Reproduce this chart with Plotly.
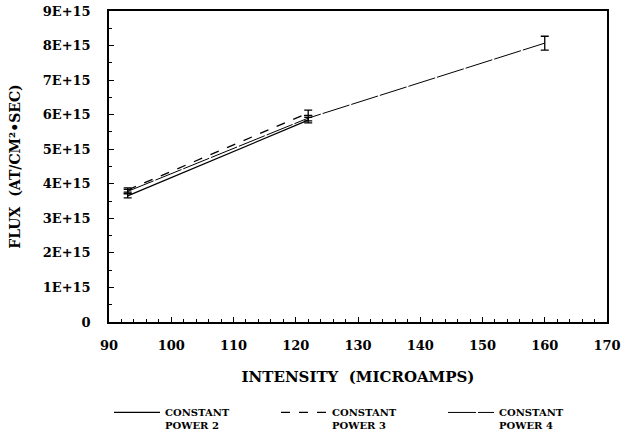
import plotly.graph_objects as go

# Data
x_p2 = [93, 122]
y_p2 = [3.65e15, 5.84e15]
e_p2 = [0.06e15, 0.08e15]

x_p3 = [93, 122]
y_p3 = [3.82e15, 6.05e15]
e_p3 = [0.06e15, 0.08e15]

x_p4 = [93, 122, 160]
y_p4 = [3.78e15, 5.90e15, 8.07e15]
e_p4 = [0.06e15, 0.08e15, 0.20e15]

names = ["CONSTANT<br>POWER 2", "CONSTANT<br>POWER 3", "CONSTANT<br>POWER 4"]

x_ticks = [90, 100, 110, 120, 130, 140, 150, 160, 170]
y_ticks = [0, 1e15, 2e15, 3e15, 4e15, 5e15, 6e15, 7e15, 8e15, 9e15]
y_ticktext = ["0", "1E+15", "2E+15", "3E+15", "4E+15", "5E+15", "6E+15", "7E+15", "8E+15", "9E+15"]

FONT = "DejaVu Serif"

fig = go.Figure()
series = [
    (x_p2, y_p2, e_p2, names[0], "solid", 1.3),
    (x_p3, y_p3, e_p3, names[1], "dash", 1.3),
    (x_p4, y_p4, e_p4, names[2], "28px,2px", 1.0),
]
for xs, ys, es, nm, dash, w in series:
    fig.add_trace(go.Scatter(
        x=xs, y=ys, name=nm, mode="lines",
        line=dict(color="black", width=w, dash=dash),
        error_y=dict(type="data", array=es, visible=True, color="black",
                     thickness=1.3, width=4),
    ))

axis_common = dict(
    showgrid=False, zeroline=False, showline=True, linecolor="black",
    linewidth=1.5, mirror=True, ticks="inside", tickcolor="black",
    ticklen=5, tickwidth=1.2, automargin=False,
    tickfont=dict(family=FONT, size=13, color="black", weight="bold"),
)

fig.update_layout(
    width=625, height=434,
    paper_bgcolor="white", plot_bgcolor="white",
    margin=dict(l=109, r=18, t=11, b=112, autoexpand=False),
    font=dict(family=FONT, color="black", weight="bold"),
    xaxis=dict(
        range=[90, 170], tickvals=x_ticks, ticklabelstandoff=11, **axis_common,
        minor=dict(dtick=2, ticks="inside", ticklen=3, tickcolor="black", tickwidth=1),
        title=dict(text="INTENSITY  (MICROAMPS)", standoff=19,
                   font=dict(family=FONT, size=15, color="black", weight="bold")),
    ),
    yaxis=dict(
        range=[0, 9e15], tickvals=y_ticks, ticktext=y_ticktext, ticklabelstandoff=14,
        **axis_common,
        minor=dict(dtick=0.5e15, ticks="inside", ticklen=3, tickcolor="black", tickwidth=1),
        title=dict(text="FLUX  (AT/CM²•SEC)", standoff=19,
                   font=dict(family=FONT, size=14, color="black", weight="bold")),
    ),
    legend=dict(
        orientation="h", x=0.0, xanchor="left", y=-0.249, yanchor="top",
        font=dict(family=FONT, size=10, color="black", weight="bold"),
        itemwidth=46, entrywidth=106, entrywidthmode="pixels",
        valign="top", bgcolor="rgba(0,0,0,0)",
    ),
    showlegend=True,
)

fig.write_html("out.html")
